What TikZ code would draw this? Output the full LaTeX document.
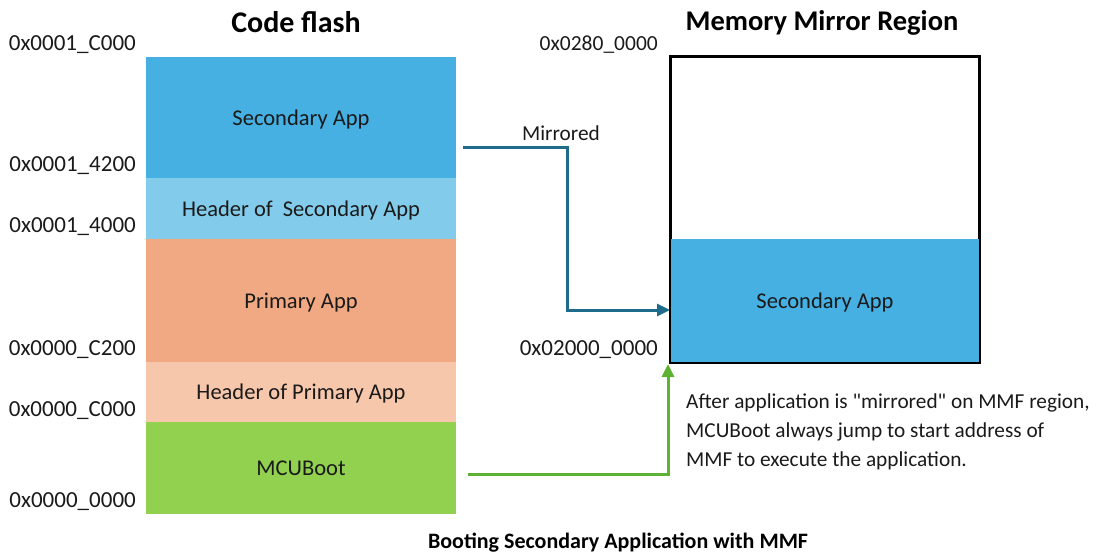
\documentclass[tikz,border=0pt]{standalone}
\usepackage{fontspec}
\setmainfont{Carlito}
\usetikzlibrary{arrows.meta}
\definecolor{secblue}{HTML}{45B0E1}
\definecolor{hdrblue}{HTML}{83CBEB}
\definecolor{primorange}{HTML}{F1A983}
\definecolor{hdrorange}{HTML}{F7C7AC}
\definecolor{bootgreen}{HTML}{92D050}
\definecolor{mirrorarrow}{HTML}{1F6B8C}
\definecolor{jumparrow}{HTML}{5DB234}
\definecolor{txt}{HTML}{1A1A1A}
\begin{document}
\begin{tikzpicture}[x=1pt,y=-1pt,
  block/.style={inner sep=0pt, minimum width=310pt, text=txt, text depth=0pt, font=\fontsize{22.5}{26}\selectfont},
  addr/.style={anchor=east, inner sep=0pt, text=txt, text depth=0pt, font=\fontsize{23}{26}\selectfont},
  title/.style={inner sep=0pt, font=\bfseries\fontsize{28.5}{32}\selectfont},
  note/.style={inner sep=0pt, text=txt, font=\fontsize{21.3}{24}\selectfont},
  mirrorline/.style={draw=mirrorarrow, line width=3pt, -{Triangle[length=13pt,width=12pt]}},
  jumpline/.style={draw=jumparrow, line width=3pt, -{Triangle[length=13pt,width=12pt]}}
]
\useasboundingbox (0,0) rectangle (1114,556);
% Code flash blocks
\node[block, fill=secblue, minimum height=121pt] (sec) at (301,117.5) {Secondary App};
\node[block, fill=hdrblue, minimum height=61pt] (sechdr) at (301,208.5) {Header of\ \ Secondary App};
\node[block, fill=primorange, minimum height=123pt] (prim) at (301,300.5) {Primary App};
\node[block, fill=hdrorange, minimum height=60pt] (primhdr) at (301,392) {Header of Primary App};
\node[block, fill=bootgreen, minimum height=92pt] (boot) at (301,468) {MCUBoot};
% titles
\node[title, font=\bfseries\fontsize{30}{33}\selectfont] (cftitle) at (296,22) {Code flash};
\node[title] (mmtitle) at (822,23) {Memory Mirror Region};
% addresses
\node[addr] (a1) at (136,43) {0x0001\_C000};
\node[addr] (a2) at (136,164) {0x0001\_4200};
\node[addr] (a3) at (136,225) {0x0001\_4000};
\node[addr] (a4) at (136,348) {0x0000\_C200};
\node[addr] (a5) at (136,409) {0x0000\_C000};
\node[addr] (a6) at (136,500) {0x0000\_0000};
\node[addr, font=\fontsize{21.5}{24}\selectfont] (a7) at (658,43) {0x0280\_0000};
\node[addr] (a8) at (658,348) {0x02000\_0000};
% mirror region
\node[draw=black, line width=2pt, minimum width=308pt, minimum height=305pt, inner sep=0pt] (mmf) at (825,209.5) {};
\node[block, fill=secblue, minimum width=308pt, minimum height=123pt] (mmfsec) at (825,300.5) {Secondary App};
\draw[black, line width=2pt] (mmf.north west) rectangle (mmf.south east);
% arrows
\coordinate (mstart) at (463,148);
\coordinate (mbend) at (567,148);
\coordinate (mend) at (670,310);
\draw[mirrorline] (mstart) -- (mbend) |- (mend);
\node[note, text depth=0pt] (mlabel) at (561,133) {Mirrored};
\coordinate (jstart) at (468,474);
\coordinate (jend) at (668,364);
\draw[jumpline] (jstart) -| (jend);
% note
\node[note, anchor=west, align=left, font=\fontsize{21.3}{29}\selectfont] (note) at (686,432) {After application is \textquotedbl mirrored\textquotedbl{} on MMF region,\\MCUBoot always jump to start address of\\MMF to execute the application.};
% caption
\node[title, font=\bfseries\fontsize{22}{25}\selectfont] (caption) at (618,543) {Booting Secondary Application with MMF};
\end{tikzpicture}
\end{document}
